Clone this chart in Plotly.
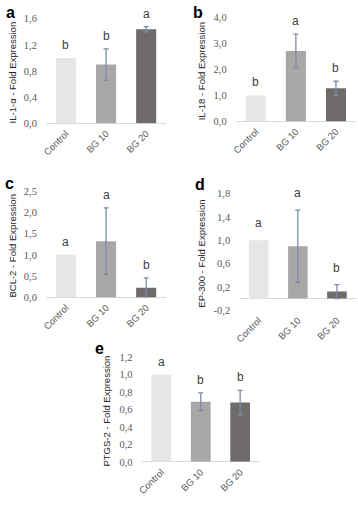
import plotly.graph_objects as go

W, H = 358, 505

categories = ["Control", "BG 10", "BG 20"]

il1a_vals = [1.0, 0.90, 1.44]
il1a_err = [0.0, 0.24, 0.04]
il1a_sig = ["b", "b", "a"]

il18_vals = [1.0, 2.72, 1.28]
il18_err = [0.0, 0.65, 0.27]
il18_sig = ["b", "a", "b"]

bcl2_vals = [1.0, 1.32, 0.23]
bcl2_err = [0.0, 0.78, 0.23]
bcl2_sig = ["a", "a", "b"]

ep300_vals = [1.0, 0.90, 0.12]
ep300_err = [0.0, 0.62, 0.12]
ep300_sig = ["a", "a", "b"]

ptgs2_vals = [1.0, 0.69, 0.68]
ptgs2_err = [0.0, 0.10, 0.14]
ptgs2_sig = ["a", "b", "b"]

a_ticks = [0.0, 0.4, 0.8, 1.2, 1.6]
b_ticks = [0.0, 1.0, 2.0, 3.0, 4.0]
c_ticks = [0.0, 0.5, 1.0, 1.5, 2.0, 2.5]
d_ticks = [-0.2, 0.2, 0.6, 1.0, 1.4, 1.8]
e_ticks = [0.0, 0.2, 0.4, 0.6, 0.8, 1.0, 1.2]

titles = ["IL-1-α - Fold Expression", "IL-18 - Fold Expression",
          "BCL-2 - Fold Expression", "EP-300 - Fold Expression",
          "PTGS-2 - Fold Expression"]
panel_letters = ["a", "b", "c", "d", "e"]

bar_colors = ["#e6e6e6", "#a9a6a6", "#6f6b6b"]
err_color = "#7d8da3"


def fmt(v):
    return ("%.1f" % v).replace(".", ",")


def px_x(p):
    return p / W


def px_y(p):
    return 1 - p / H


# panel geometry in pixels: (x0, x1, ytop, ybottom)
panels = [
    dict(vals=il1a_vals, err=il1a_err, sig=il1a_sig, ticks=a_ticks,
         rng=[0, 1.6], geo=(41.5, 163.5, 14, 121), title_x=8, letter=(6, 8), sshift=4),
    dict(vals=il18_vals, err=il18_err, sig=il18_sig, ticks=b_ticks,
         rng=[0, 4.0], geo=(234, 356, 13, 119), title_x=199, letter=(196, 8), sshift=4),
    dict(vals=bcl2_vals, err=bcl2_err, sig=bcl2_sig, ticks=c_ticks,
         rng=[0, 2.5], geo=(41.5, 163.5, 190, 299), title_x=8, letter=(5, 182), sshift=4),
    dict(vals=ep300_vals, err=ep300_err, sig=ep300_sig, ticks=d_ticks,
         rng=[-0.2, 1.8], geo=(237.5, 356.5, 193, 312), title_x=199, letter=(198, 183), sshift=8),
    dict(vals=ptgs2_vals, err=ptgs2_err, sig=ptgs2_sig, ticks=e_ticks,
         rng=[0, 1.2], geo=(138.5, 258.5, 360, 467), title_x=103, letter=(96, 351), sshift=4),
]

fig = go.Figure()
annotations = []
layout_axes = {}

for i, p in enumerate(panels):
    n = "" if i == 0 else str(i + 1)
    xa, ya = "x" + n, "y" + n
    x0, x1, yt, yb = p["geo"]
    fig.add_trace(go.Bar(
        x=categories, y=p["vals"], xaxis=xa, yaxis=ya,
        marker=dict(color=bar_colors, line=dict(width=0)),
        width=0.5, showlegend=False, hoverinfo="skip",
    ))
    # error bars only where an error exists
    ex = [c for c, e in zip(categories, p["err"]) if e > 0]
    ey = [v for v, e in zip(p["vals"], p["err"]) if e > 0]
    ee = [e for e in p["err"] if e > 0]
    fig.add_trace(go.Scatter(
        x=ex, y=ey, xaxis=xa, yaxis=ya, mode="markers",
        marker=dict(size=1, opacity=0),
        error_y=dict(type="data", array=ee, visible=True,
                     color=err_color, thickness=1.3, width=2.5),
        showlegend=False, hoverinfo="skip",
    ))
    layout_axes["xaxis" + n] = dict(
        domain=[px_x(x0), px_x(x1)], anchor=ya, range=[-0.5, 2.5],
        showgrid=False, showline=False, zeroline=False, ticks="",
        tickangle=-45, ticklabelstandoff=2,
        tickfont=dict(family="Liberation Sans, Arial, sans-serif", size=9.5, color="#595959"),
        fixedrange=True,
    )
    layout_axes["yaxis" + n] = dict(
        domain=[px_y(yb), px_y(yt)], anchor=xa, range=p["rng"],
        showgrid=False, showline=False, zeroline=True,
        zerolinecolor="#d9d9d9", zerolinewidth=1,
        tickvals=p["ticks"], ticktext=[fmt(t) for t in p["ticks"]],
        ticks="", ticklabelstandoff=8,
        tickfont=dict(family="Liberation Serif, Times New Roman, serif", size=10.5, color="#595959"),
        fixedrange=True,
    )
    # y title
    annotations.append(dict(
        text=titles[i], xref="paper", yref="paper",
        x=px_x(p["title_x"]), y=(px_y(yb) + px_y(yt)) / 2 - 0.003,
        textangle=-90, showarrow=False, xanchor="center", yanchor="middle",
        font=dict(family="Liberation Sans, Arial, sans-serif", size=9.5, color="#262626"),
    ))
    # panel letter
    lx, ly = p["letter"]
    annotations.append(dict(
        text="<b>%s</b>" % panel_letters[i], xref="paper", yref="paper",
        x=px_x(lx), y=px_y(ly), showarrow=False,
        xanchor="center", yanchor="middle",
        font=dict(family="Liberation Sans, Arial, sans-serif", size=16, color="#000000"),
    ))
    # significance letters
    for c, v, e, s in zip(categories, p["vals"], p["err"], p["sig"]):
        annotations.append(dict(
            text=s, xref=xa, yref=ya, x=c, y=v + e, yshift=p["sshift"],
            showarrow=False, xanchor="center", yanchor="bottom",
            font=dict(family="Liberation Sans, Arial, sans-serif", size=12, color="#404040"),
        ))

fig.update_layout(
    width=W, height=H, margin=dict(l=0, r=0, t=0, b=0),
    paper_bgcolor="white", plot_bgcolor="white",
    annotations=annotations,
    **layout_axes,
)

fig.write_html("out.html", config={"displayModeBar": False},
               post_script="document.body.style.margin='0';document.body.style.overflow='hidden';")
